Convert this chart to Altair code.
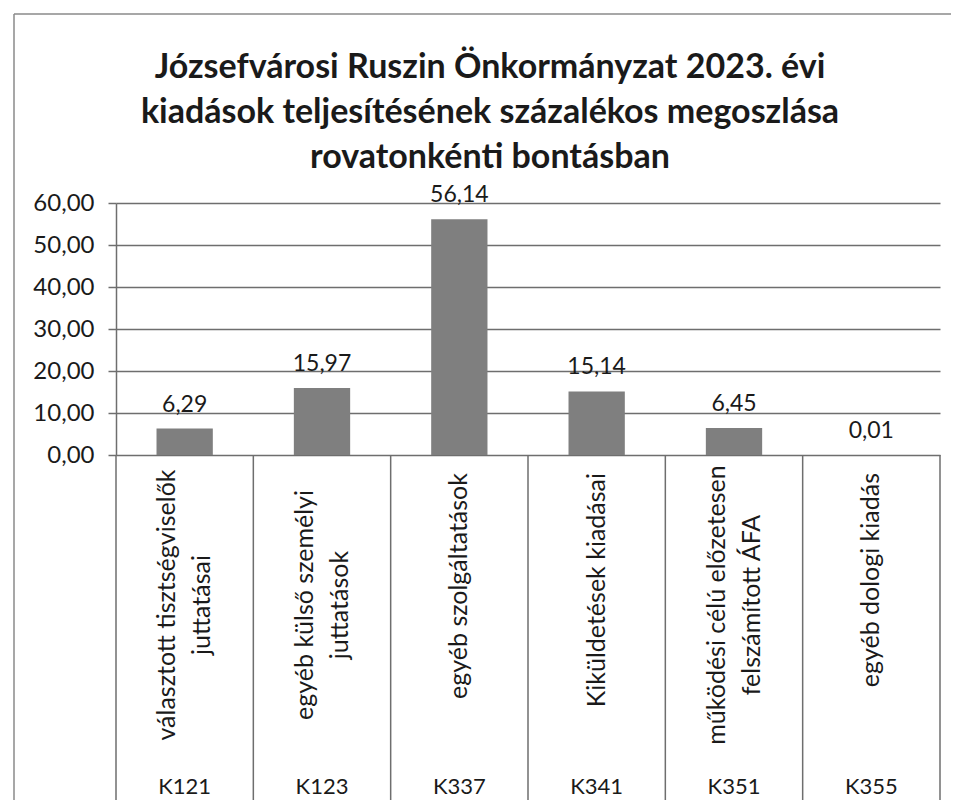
import altair as alt
import pandas as pd

codes = ["K121", "K123", "K337", "K341", "K351", "K355"]
names = [
    "választott tisztségviselők\njuttatásai",
    "egyéb külső személyi\njuttatások",
    "egyéb szolgáltatások",
    "Kiküldetések kiadásai",
    "működési célú előzetesen\nfelszámított ÁFA",
    "egyéb dologi kiadás",
]
values = [6.29, 15.97, 56.14, 15.14, 6.45, 0.01]
y_ticks = [0, 10, 20, 30, 40, 50, 60]
title_text = (
    "Józsefvárosi Ruszin Önkormányzat 2023. évi\n"
    "kiadások teljesítésének százalékos megoszlása\n"
    "rovatonkénti bontásban"
)

W, H = 824, 252
GRID = "#6e6e6e"
BAR = "#7f7f7f"
FONT = "Lato"
INK = "#1a1a1a"
FRAME = "#8a8a8a"

df = pd.DataFrame({"idx": list(range(len(codes))), "code": codes, "name": names, "value": values})
bounds = pd.DataFrame({"b": list(range(len(codes) + 1))})
title_df = pd.DataFrame({"t": [title_text]})

xs = alt.Scale(domain=[0, len(codes)], nice=False, zero=False)
ys = alt.Scale(domain=[0, 60], nice=False)

base = alt.Chart(df).transform_calculate(
    x0="datum.idx + 0.295",
    x1="datum.idx + 0.705",
    xc="datum.idx + 0.5",
    lab="replace(format(datum.value, '.2f'), '.', ',')",
)

bars = base.mark_bar(color=BAR).encode(
    x=alt.X("x0:Q", scale=xs, axis=None),
    x2="x1:Q",
    y=alt.Y(
        "value:Q",
        scale=ys,
        axis=alt.Axis(
            values=y_ticks,
            labelExpr="replace(format(datum.value, '.2f'), '.', ',')",
            title=None,
            grid=True,
            gridColor=GRID,
            gridWidth=1.5,
            domain=True,
            domainColor=GRID,
            domainWidth=1.5,
            tickColor=GRID,
            tickSize=8,
            tickWidth=1.5,
            labelFont=FONT,
            labelFontSize=24,
            labelColor=INK,
            labelPadding=14,
        ),
    ),
    y2=alt.datum(0),
)

labels = base.mark_text(font=FONT, fontSize=23, color=INK, baseline="bottom", dy=-12).encode(
    x=alt.X("xc:Q", scale=xs, axis=None),
    y=alt.Y("value:Q", scale=ys),
    text="lab:N",
)

seps = alt.Chart(bounds).mark_rule(color=GRID, strokeWidth=1.5).encode(
    x=alt.X("b:Q", scale=xs, axis=None),
    y=alt.value(H),
    y2=alt.value(H + 345),
)

names_single = base.transform_filter(
    "indexof(datum.name, '\\n') < 0"
).mark_text(
    font=FONT, fontSize=25, angle=270, align="right", baseline="middle", color=INK,
).encode(
    x=alt.X("xc:Q", scale=xs, axis=None),
    y=alt.value(H + 18),
    text="name:N",
)

names_multi = base.transform_filter(
    "indexof(datum.name, '\\n') >= 0"
).mark_text(
    font=FONT, fontSize=25, angle=270, align="center", baseline="middle",
    lineBreak="\n", lineHeight=35, dy=-17.5, color=INK,
).encode(
    x=alt.X("xc:Q", scale=xs, axis=None),
    y=alt.value(H + 150),
    text="name:N",
)

codes_txt = base.mark_text(font=FONT, fontSize=22, color=INK, baseline="middle").encode(
    x=alt.X("xc:Q", scale=xs, axis=None),
    y=alt.value(H + 332),
    text="code:N",
)

title_mark = alt.Chart(title_df).mark_text(
    font=FONT, fontSize=34, fontWeight="bold", color=INK, align="center",
    baseline="middle", lineBreak="\n", lineHeight=45,
).encode(
    x=alt.value(W / 2 - 38),
    y=alt.value(-135),
    text="t:N",
)

frame_top = alt.Chart(title_df).mark_rule(color=FRAME, strokeWidth=1.5).encode(
    x=alt.value(-102), x2=alt.value(W + 11), y=alt.value(-189), y2=alt.value(-189),
)
frame_left = alt.Chart(title_df).mark_rule(color=FRAME, strokeWidth=1.5).encode(
    x=alt.value(-102), x2=alt.value(-102), y=alt.value(-189), y2=alt.value(H + 345),
)

chart = alt.layer(
    frame_top, frame_left, seps, bars, labels, names_single, names_multi, codes_txt, title_mark
).properties(
    width=W,
    height=H,
    autosize=alt.AutoSizeParams(type="none"),
    padding={"left": 108, "top": 195, "right": 11, "bottom": 345},
).configure(background="white").configure_view(stroke=None)

chart.save("out.html", embed_options={"renderer": "svg", "actions": False})
